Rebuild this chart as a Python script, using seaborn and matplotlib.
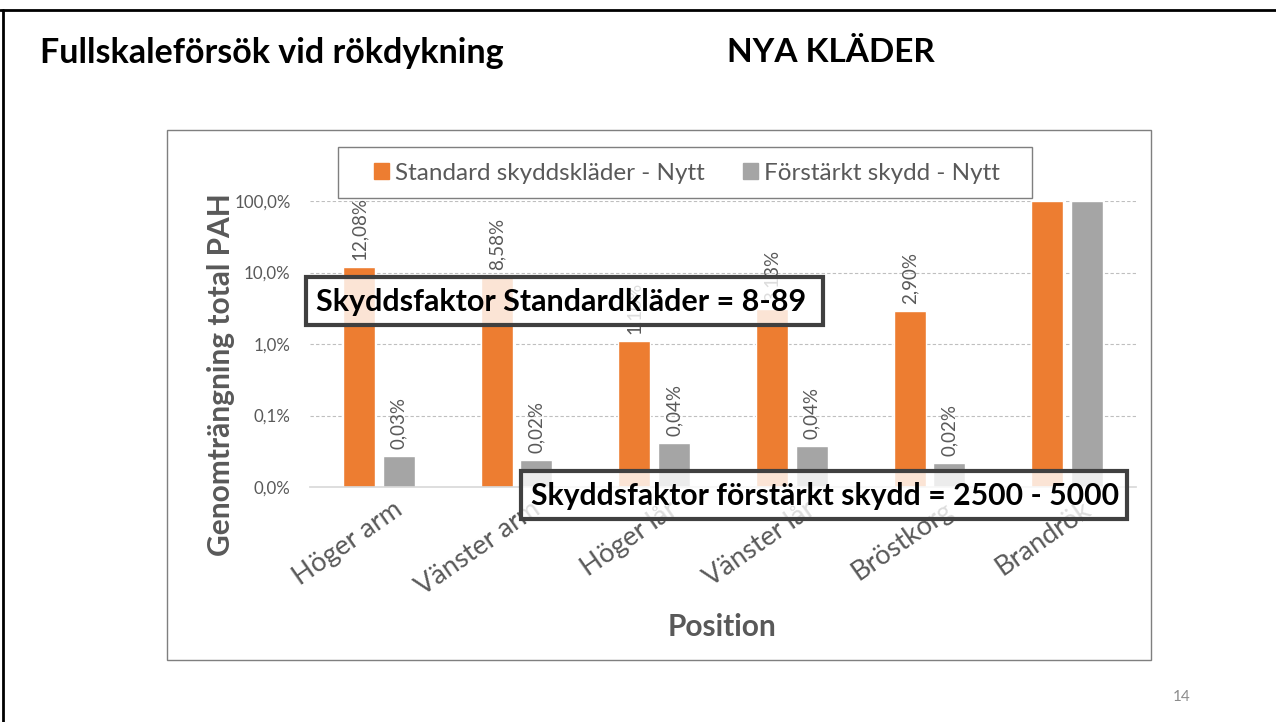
import matplotlib
matplotlib.use("Agg")
import matplotlib.pyplot as plt
import matplotlib.transforms as mtransforms
import seaborn as sns
import pandas as pd
from matplotlib.patches import Rectangle
from matplotlib.lines import Line2D

categories = ["Höger arm", "Vänster arm", "Höger lår", "Vänster lår", "Bröstkorg", "Brandrök"]
series_names = ["Standard skyddskläder - Nytt", "Förstärkt skydd - Nytt"]
standard_pct = [12.08, 8.58, 1.10, 3.13, 2.90, 100.0]
forstarkt_pct = [0.027, 0.024, 0.041, 0.038, 0.022, 100.0]
standard_labels = ["12,08%", "8,58%", "1,10%", "3,13%", "2,90%", ""]
forstarkt_labels = ["0,03%", "0,02%", "0,04%", "0,04%", "0,02%", ""]
ytick_vals = [0.01, 0.1, 1, 10, 100]
ytick_labels = ["0,0%", "0,1%", "1,0%", "10,0%", "100,0%"]

colors = ["#ED7D31", "#A5A5A5"]
txt_gray = "#595959"

sns.set_theme(style="white")
plt.rcParams["font.family"] = ["Lato", "DejaVu Sans"]

df = pd.DataFrame({
    "Position": categories * 2,
    "value": standard_pct + forstarkt_pct,
    "Serie": [series_names[0]] * len(categories) + [series_names[1]] * len(categories),
})

fig = plt.figure(figsize=(12.76, 7.22), dpi=100)
W, H = 1276, 722

def fx(x):
    return x / W

def fy(y):
    return 1 - y / H

# slide border (top & left)
fig.add_artist(Line2D([0, 1], [fy(10), fy(10)], color="black", lw=2, transform=fig.transFigure))
fig.add_artist(Line2D([fx(3), fx(3)], [fy(10), 0], color="black", lw=2, transform=fig.transFigure))
# chart area border
fig.add_artist(Rectangle((fx(167), fy(660)), fx(1151 - 167), (660 - 130) / H, fill=False,
                         edgecolor="#7F7F7F", lw=1, transform=fig.transFigure))

ax = fig.add_axes([fx(310), fy(487), fx(1136 - 310), (487 - 201) / H])
sns.barplot(data=df, x="Position", y="value", hue="Serie", palette=colors,
            width=0.58, gap=0.2, log_scale=True, ax=ax, legend=False, saturation=1)
ax.set_yscale("log")
ax.set_ylim(0.01, 100)
ax.set_xlim(-0.5, len(categories) - 0.5)
ax.set_yticks(ytick_vals)
ax.set_yticklabels(ytick_labels)
ax.yaxis.set_minor_locator(matplotlib.ticker.NullLocator())
ax.tick_params(axis="y", colors=txt_gray, labelsize=12.2, length=0, pad=14)
ax.tick_params(axis="x", colors=txt_gray, labelsize=19.5, length=0, pad=7)
shift = mtransforms.ScaledTranslation(14 / 100, 0, fig.dpi_scale_trans)
for lab in ax.get_xticklabels():
    lab.set_rotation(35)
    lab.set_ha("right")
    lab.set_rotation_mode("anchor")
    lab.set_transform(lab.get_transform() + shift)
for v in ytick_vals[1:]:
    ax.axhline(v, color="#BFBFBF", lw=0.8, ls=(0, (3, 2)), zorder=0)
for s in ["top", "right", "left"]:
    ax.spines[s].set_visible(False)
ax.spines["bottom"].set_color("#D9D9D9")
ax.grid(False)
ax.set_ylabel("Genomträngning total PAH", fontsize=21.5, fontweight="bold", color=txt_gray)
ax.yaxis.set_label_coords((221 - 310) / 826, (487 - 375) / 286)
ax.yaxis.label.set_va("center")
ax.set_xlabel("Position", fontsize=21.5, fontweight="bold", color=txt_gray)
ax.xaxis.set_label_coords((722 - 310) / 826, -(627 - 487) / 286)
ax.xaxis.label.set_va("center")

# data labels
for cont, labs in zip(ax.containers, [standard_labels, forstarkt_labels]):
    for bar, lab in zip(cont, labs):
        if not lab:
            continue
        ax.annotate(lab, (bar.get_x() + bar.get_width() / 2, bar.get_height()),
                    xytext=(0, 5), textcoords="offset points", rotation=90,
                    ha="center", va="bottom", fontsize=13.5, color=txt_gray)

# legend (frame drawn separately)
fig.add_artist(Rectangle((fx(338), fy(198)), fx(1032 - 338), (198 - 147) / H,
                         facecolor="white", edgecolor="#7F7F7F", lw=1,
                         transform=fig.transFigure, zorder=4))
handles = [Rectangle((0, 0), 1, 1, color=c) for c in colors]
leg = fig.legend(handles, series_names, loc="center", bbox_to_anchor=(fx(687), fy(173)),
                 ncol=2, frameon=False, fontsize=17.5, handlelength=0.6, handleheight=0.6,
                 handletextpad=0.25, columnspacing=1.6, borderpad=0.5)
leg.set_zorder(5)
for t in leg.get_texts():
    t.set_color(txt_gray)

# text boxes
fig.add_artist(Rectangle((fx(306), fy(325)), fx(823 - 306), (325 - 277) / H,
                         facecolor="white", alpha=0.8, edgecolor="none", transform=fig.transFigure, zorder=10))
fig.add_artist(Rectangle((fx(306), fy(325)), fx(823 - 306), (325 - 277) / H,
                         fill=False, edgecolor="#404040", lw=3, transform=fig.transFigure, zorder=11))
fig.text(fx(316), fy(302), "Skyddsfaktor Standardkläder = 8-89", fontsize=22, fontweight="bold",
         color="black", ha="left", va="center", zorder=12)
fig.add_artist(Rectangle((fx(521), fy(519)), fx(1127 - 521), (519 - 471) / H,
                         facecolor="white", alpha=0.8, edgecolor="none", transform=fig.transFigure, zorder=10))
fig.add_artist(Rectangle((fx(521), fy(519)), fx(1127 - 521), (519 - 471) / H,
                         fill=False, edgecolor="#404040", lw=3, transform=fig.transFigure, zorder=11))
fig.text(fx(531), fy(496), "Skyddsfaktor förstärkt skydd = 2500 - 5000", fontsize=21.7, fontweight="bold",
         color="black", ha="left", va="center", zorder=12)

# titles
fig.text(fx(40), fy(53), "Fullskaleförsök vid rökdykning", fontsize=24.5, fontweight="bold",
         color="black", ha="left", va="center")
fig.text(fx(727), fy(53), "NYA KLÄDER", fontsize=24, fontweight="bold",
         color="black", ha="left", va="center")
fig.text(fx(1182), fy(697), "14", fontsize=11, color="#8C8C8C", ha="center", va="center")

fig.savefig("out.png", dpi=100)
